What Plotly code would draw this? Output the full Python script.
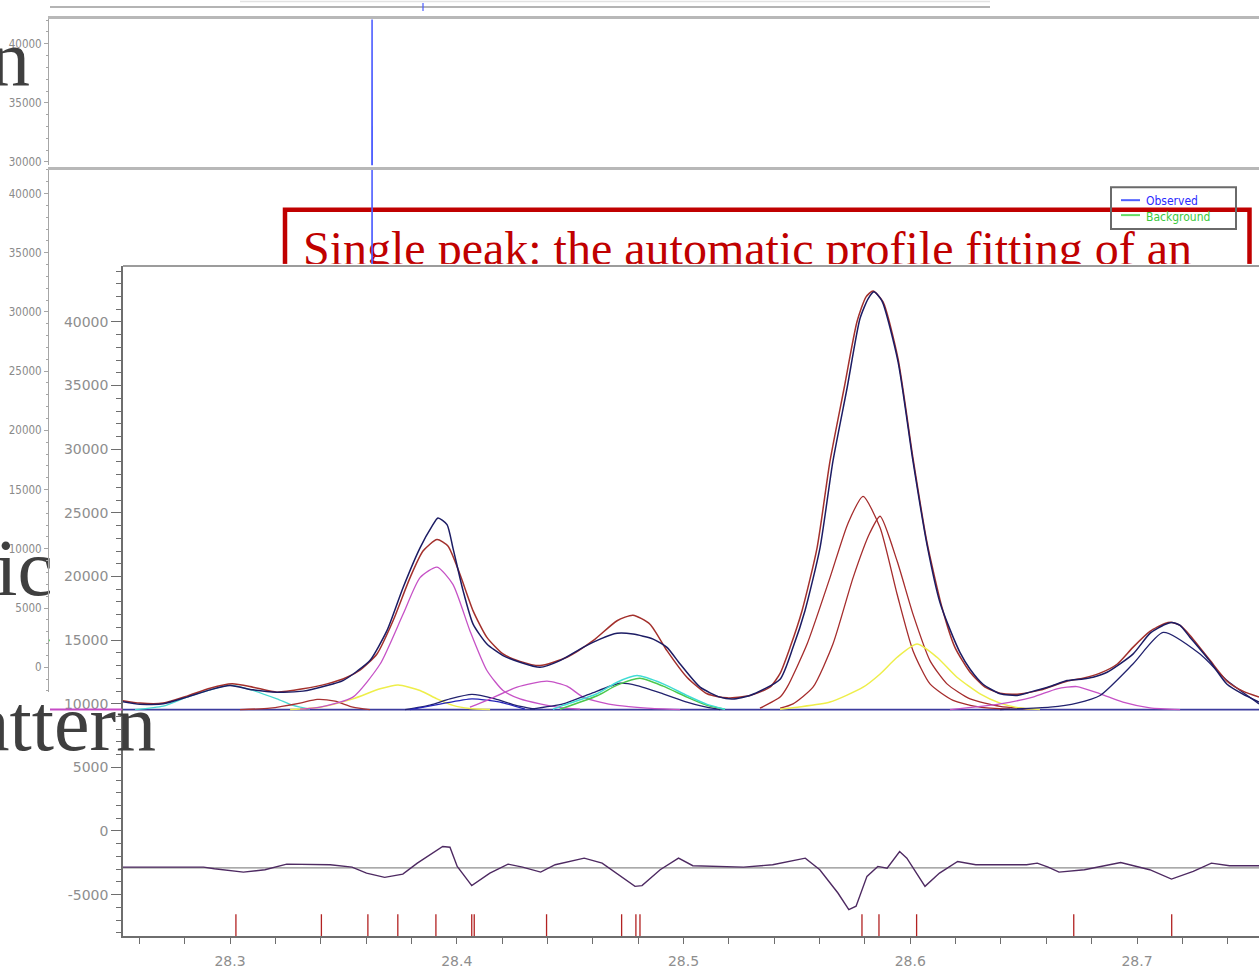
import plotly.graph_objects as go

W, H = 1259, 971

# ---------------- data (2-theta in degrees, intensity in counts) ----------------
obs_x = [28.2515, 28.2603, 28.2705, 28.2810, 28.2912, 28.3000, 28.3101, 28.3207, 28.3322, 28.3428,
         28.3498, 28.3560, 28.3617, 28.3692, 28.3763, 28.3838, 28.3891, 28.3917, 28.3957, 28.3983,
         28.4028, 28.4072, 28.4133, 28.4204, 28.4279, 28.4367, 28.4455, 28.4557, 28.4632, 28.4707,
         28.4777, 28.4866, 28.4927, 28.4985, 28.5073, 28.5161, 28.5218, 28.5293, 28.5426, 28.5483,
         28.5536, 28.5602, 28.5659, 28.5721, 28.5778, 28.5814, 28.5840, 28.5875, 28.5946, 28.6012,
         28.6074, 28.6131, 28.6175, 28.6219, 28.6264, 28.6321, 28.6396, 28.6471, 28.6528, 28.6616,
         28.6691, 28.6762, 28.6806, 28.6868, 28.6982, 28.7057, 28.7123, 28.7154, 28.7190, 28.7234,
         28.7322, 28.7397, 28.7467, 28.7538]
obs_y = [10200, 9950, 9990, 10520, 11090, 11430, 11090, 10910, 10990, 11430,
         11820, 12550, 13390, 15740, 19120, 22250, 23950, 24600, 24080, 22250,
         18870, 16250, 14690, 13780, 13260, 12860, 13390, 14430, 15080, 15530,
         15470, 15080, 14430, 13120, 11300, 10520, 10380, 10650, 11930, 14430,
         17330, 22250, 29060, 34770, 40250, 41820, 42370, 41660, 36890, 29060,
         22490, 17950, 15840, 14040, 12710, 11530, 10780, 10650, 10910, 11350,
         11820, 11950, 12080, 12470, 13900, 15530, 16230, 16390, 16150, 15210,
         13330, 11530, 10750, 10130]

calc_x = [28.2515, 28.2603, 28.2705, 28.2810, 28.2912, 28.3009, 28.3101, 28.3207, 28.3322, 28.3428,
          28.3516, 28.3573, 28.3648, 28.3719, 28.3794, 28.3851, 28.3913, 28.3961, 28.4014, 28.4072,
          28.4133, 28.4204, 28.4279, 28.4367, 28.4486, 28.4601, 28.4707, 28.4777, 28.4852, 28.4927,
          28.5015, 28.5104, 28.5192, 28.5293, 28.5381, 28.5426, 28.5470, 28.5523, 28.5589, 28.5646,
          28.5708, 28.5765, 28.5805, 28.5836, 28.5880, 28.5946, 28.6012, 28.6074, 28.6140, 28.6197,
          28.6264, 28.6330, 28.6396, 28.6471, 28.6572, 28.6691, 28.6762, 28.6837, 28.6912, 28.6982,
          28.7057, 28.7123, 28.7154, 28.7190, 28.7234, 28.7322, 28.7397, 28.7467, 28.7538]
calc_y = [10280, 10050, 10050, 10600, 11220, 11560, 11300, 10910, 11170, 11560,
          12080, 12630, 13910, 16520, 19910, 22000, 22900, 22390, 20170, 17300,
          15210, 13910, 13330, 13000, 13650, 14950, 16520, 16960, 16250, 14170,
          12080, 10780, 10460, 10650, 11300, 12390, 14430, 17330, 22250, 29060,
          34770, 40020, 41970, 42440, 41580, 37120, 29300, 22650, 17560, 14430,
          12470, 11300, 10830, 10750, 11070, 11770, 12000, 12400, 13100, 14430,
          15680, 16310, 16390, 16150, 15370, 13410, 11770, 10990, 10520]

background_x = [28.25, 28.76]
background_y = [9540, 9540]

# individual peak components
cyan1_x = [28.2581, 28.2705, 28.2810, 28.2912, 28.3000, 28.3101, 28.3207, 28.3278, 28.3353]
cyan1_y = [9540, 9810, 10520, 11090, 11460, 11040, 10380, 9870, 9570]

red_small_x = [28.3044, 28.3176, 28.3309, 28.3384, 28.3463, 28.3542, 28.3617]
red_small_y = [9540, 9650, 10050, 10340, 10200, 9730, 9540]

yellow1_x = [28.3265, 28.3397, 28.3542, 28.3662, 28.3741, 28.3838, 28.3913, 28.3983, 28.4058, 28.4147]
yellow1_y = [9540, 9730, 10380, 11170, 11480, 11040, 10380, 9870, 9620, 9540]

magenta1_x = [28.3309, 28.3397, 28.3542, 28.3662, 28.3763, 28.3838, 28.3913, 28.3983, 28.4058,
              28.4133, 28.4204, 28.4279, 28.4367, 28.4455, 28.4544]
magenta1_y = [9580, 9730, 10520, 13120, 17030, 19910, 20740, 19380, 15740,
              12610, 11040, 10380, 9990, 9700, 9580]

navy_a_x = [28.3772, 28.3882, 28.3970, 28.4067, 28.4169, 28.4257, 28.4345]
navy_a_y = [9540, 9890, 10380, 10730, 10380, 9890, 9570]

blue_b_x = [28.3794, 28.3926, 28.4067, 28.4191, 28.4301]
blue_b_y = [9540, 9970, 10380, 10130, 9570]

magenta2_x = [28.4058, 28.4133, 28.4266, 28.4398, 28.4486, 28.4557, 28.4632, 28.4707, 28.4839, 28.4985]
magenta2_y = [9730, 10260, 11300, 11770, 11380, 10520, 10130, 9870, 9660, 9540]

navy_c_x = [28.4323, 28.4469, 28.4588, 28.4720, 28.4795, 28.4910, 28.5015, 28.5086, 28.5161]
navy_c_y = [9570, 9990, 10780, 11610, 11430, 10780, 10130, 9790, 9540]

cyan2_x = [28.4424, 28.4469, 28.4619, 28.4707, 28.4795, 28.4910, 28.5015, 28.5104, 28.5183]
cyan2_y = [9570, 9870, 10780, 11690, 12210, 11560, 10650, 9950, 9570]

green2_x = [28.4455, 28.4619, 28.4707, 28.4808, 28.4910, 28.5015, 28.5104, 28.5183]
green2_y = [9570, 10630, 11460, 12000, 11380, 10520, 9870, 9570]

red_a_x = [28.5337, 28.5426, 28.5457, 28.5545, 28.5646, 28.5726, 28.5792, 28.5867, 28.5942,
           28.6012, 28.6087, 28.6189, 28.6308, 28.6440]
red_a_y = [9650, 10520, 11300, 14690, 19910, 24210, 26300, 23820, 18600,
           14170, 11560, 10260, 9730, 9570]

red_b_x = [28.5426, 28.5483, 28.5571, 28.5659, 28.5748, 28.5822, 28.5867, 28.5942, 28.6012,
           28.6087, 28.6162, 28.6264, 28.6396, 28.6528]
red_b_y = [9650, 9990, 11300, 14690, 19910, 23430, 24730, 21210, 17040,
           13390, 11560, 10380, 9800, 9570]

yellow2_x = [28.5426, 28.5503, 28.5646, 28.5792, 28.5867, 28.5942, 28.6030, 28.6118, 28.6206,
             28.6308, 28.6396, 28.6484, 28.6572]
yellow2_y = [9570, 9730, 10130, 11300, 12340, 13650, 14690, 13650, 12080,
             10780, 10050, 9660, 9540]

magenta3_x = [28.6175, 28.6396, 28.6541, 28.6647, 28.6735, 28.6837, 28.6938, 28.7057, 28.7190]
magenta3_y = [9540, 9990, 10520, 11170, 11350, 10780, 10130, 9680, 9540]

navy_d_x = [28.6396, 28.6616, 28.6735, 28.6837, 28.6982, 28.7115, 28.7278, 28.7397, 28.7538]
navy_d_y = [9540, 9730, 10050, 10650, 13120, 15600, 13900, 11820, 9990]

# difference curve (observed - calculated, shifted by offset)
residual_offset = -2900
resid_x = [28.2515, 28.2883, 28.2931, 28.3059, 28.3154, 28.3250, 28.3442, 28.3538, 28.3602, 28.3682,
           28.3762, 28.3826, 28.3938, 28.3970, 28.4002, 28.4066, 28.4146, 28.4226, 28.4290, 28.4370,
           28.4434, 28.4562, 28.4641, 28.4722, 28.4786, 28.4817, 28.4897, 28.4978, 28.5041, 28.5265,
           28.5393, 28.5537, 28.5601, 28.5681, 28.5729, 28.5761, 28.5809, 28.5857, 28.5898, 28.5953,
           28.5985, 28.6065, 28.6129, 28.6209, 28.6289, 28.6513, 28.6560, 28.6608, 28.6656, 28.6768,
           28.6928, 28.7056, 28.7152, 28.7248, 28.7328, 28.7408, 28.7538]
resid_y = [-2840, -2840, -2966, -3232, -3044, -2606, -2653, -2840, -3310, -3646,
           -3388, -2527, -1221, -1275, -2786, -4296, -3310, -2606, -2840, -3232,
           -2653, -2136, -2527, -3568, -4351, -4296, -3044, -2136, -2731, -2840,
           -2653, -2136, -3044, -4875, -6174, -5916, -3568, -2786, -2919, -1612,
           -2136, -4351, -3310, -2394, -2653, -2653, -2527, -2840, -3232, -3044,
           -2473, -3044, -3780, -3177, -2527, -2731, -2731]

# reflection (Bragg) positions
hkl_positions = [28.3026, 28.3403, 28.3608, 28.3740, 28.3908, 28.4066, 28.4077, 28.4396, 28.4727,
                 28.4790, 28.4808, 28.5787, 28.5862, 28.6028, 28.6721, 28.7153]
stick_top = -6540
stick_bottom = -8400

# overview panels (full pattern, only the strongest reflection is seen in view)
overview_x = [28.57, 28.58, 28.59]
overview_y = [9540, 42400, 9540]
overview_bg_x = [20.57, 50.57]
overview_bg_y = [2270, 2270]

main_x_ticks = [28.3, 28.4, 28.5, 28.6, 28.7]
main_y_ticks = [-5000, 0, 5000, 10000, 15000, 20000, 25000, 30000, 35000, 40000]
panel_y_ticks = [0, 5000, 10000, 15000, 20000, 25000, 30000, 35000, 40000]

title_text = "Single peak: the automatic profile fitting of an"
legend_names = ["Observed", "Background"]
legend_colors = ["#5060ff", "#66dd66"]
legend_text_colors = ["#2a2aff", "#3cc83c"]
slide_fragments = ["n", "ic", "pattern"]

# ---------------- figure ----------------
def px_x(p):
    return p / W


def px_y(p):
    return 1 - p / H


NARROW = "DejaVu Sans Condensed, Liberation Sans Narrow, Liberation Sans, sans-serif"
TICKFONT = dict(family="DejaVu Sans, Verdana, sans-serif", size=14, color="#8e8e8e")
SERIF = "Liberation Serif, Times New Roman, serif"

fig = go.Figure()

# panel 1 (overview, top)
fig.add_trace(go.Scatter(x=overview_x, y=overview_y, mode="lines", xaxis="x", yaxis="y",
                         line=dict(color=legend_colors[0], width=1.6), name=legend_names[0],
                         showlegend=False))
# panel 2 (overview, second)
fig.add_trace(go.Scatter(x=overview_bg_x, y=overview_bg_y, mode="lines", xaxis="x2", yaxis="y2",
                         line=dict(color=legend_colors[1], width=1.6), name=legend_names[1],
                         showlegend=False))
fig.add_trace(go.Scatter(x=overview_x, y=overview_y, mode="lines", xaxis="x2", yaxis="y2",
                         line=dict(color=legend_colors[0], width=1.6), showlegend=False))
# cover subplot (white card holding the zoomed chart)
fig.add_trace(go.Scatter(x=[], y=[], xaxis="x3", yaxis="y3", showlegend=False))


# main zoomed chart
def main_line(x, y, color, width=1.3, shape="spline"):
    fig.add_trace(go.Scatter(x=x, y=y, mode="lines", xaxis="x4", yaxis="y4",
                             line=dict(color=color, width=width, shape=shape, smoothing=0.6),
                             showlegend=False))


main_line(background_x, background_y, "#3c3c9e", 1.8, "linear")
main_line(cyan1_x, cyan1_y, "#46d8d0")
main_line(red_small_x, red_small_y, "#a83232")
main_line(yellow1_x, yellow1_y, "#eeee4a", 1.5)
main_line(navy_a_x, navy_a_y, "#22226e")
main_line(blue_b_x, blue_b_y, "#2424b8")
main_line(magenta1_x, magenta1_y, "#c652c6")
main_line(magenta2_x, magenta2_y, "#c652c6")
main_line(navy_c_x, navy_c_y, "#22226e")
main_line(green2_x, green2_y, "#4cc84c", 1.5)
main_line(cyan2_x, cyan2_y, "#40dcd4", 1.5)
main_line(red_a_x, red_a_y, "#a52c2c")
main_line(red_b_x, red_b_y, "#a52c2c")
main_line(yellow2_x, yellow2_y, "#eeee4a", 1.5)
main_line(magenta3_x, magenta3_y, "#c652c6")
main_line(navy_d_x, navy_d_y, "#22226e")
main_line(calc_x, calc_y, "#a3302c", 1.5)
main_line(obs_x, obs_y, "#1c1c64", 1.5)

# residual
main_line([background_x[0], background_x[1]], [residual_offset, residual_offset], "#8e8e8e", 1.3, "linear")
main_line(resid_x, resid_y, "#4e2a62", 1.4, "linear")

# reflection ticks
sx, sy = [], []
for p in hkl_positions:
    sx += [p, p, None]
    sy += [stick_bottom, stick_top, None]
fig.add_trace(go.Scatter(x=sx, y=sy, mode="lines", xaxis="x4", yaxis="y4",
                         line=dict(color="#b22222", width=1.3), showlegend=False))

panel_yaxis = dict(showline=True, linecolor="#a6a6a6", linewidth=1, ticks="outside", ticklen=4,
                   tickcolor="#a6a6a6", tickvals=panel_y_ticks, ticktext=[str(v) for v in panel_y_ticks],
                   tickfont=dict(family=NARROW, size=11.5, color="#8a8a8a"),
                   minor=dict(dtick=1000, tick0=0, ticks="outside", ticklen=2, tickcolor="#a6a6a6"),
                   showgrid=False, zeroline=False)
panel_xaxis = dict(range=[20.57, 50.57], side="top", showline=True, linecolor="#b8b8b8", linewidth=3,
                   showticklabels=False, ticks="", showgrid=False, zeroline=False)

fig.update_layout(
    width=W, height=H, autosize=False,
    margin=dict(l=0, r=0, t=0, b=0, pad=0),
    paper_bgcolor="white", plot_bgcolor="white",
    showlegend=False,
    xaxis=dict(domain=[px_x(49), 1], anchor="y", **panel_xaxis),
    yaxis=dict(domain=[px_y(166), px_y(19.5)], anchor="x", range=[29718, 42064], **panel_yaxis),
    xaxis2=dict(domain=[px_x(49), 1], anchor="y2", **panel_xaxis),
    yaxis2=dict(domain=[px_y(695), px_y(170.5)], anchor="x2", range=[-2102, 42001], **panel_yaxis),
    xaxis3=dict(domain=[px_x(50), 1], anchor="y3", visible=False, range=[0, 1]),
    yaxis3=dict(domain=[0, px_y(265)], anchor="x3", visible=False, range=[0, 1]),
    xaxis4=dict(domain=[px_x(123), 1], anchor="y4", range=[28.2528, 28.7538],
                showline=True, linecolor="#6e6e6e", linewidth=1.5,
                ticks="outside", ticklen=6, tickcolor="#6e6e6e",
                tickvals=main_x_ticks, ticktext=["%.1f" % v for v in main_x_ticks],
                ticklabelstandoff=5,
                minor=dict(dtick=0.02, tick0=28.3, ticks="outside", ticklen=6, tickcolor="#6e6e6e"),
                tickfont=TICKFONT, showgrid=False, zeroline=False),
    yaxis4=dict(domain=[px_y(940), px_y(267)], anchor="x4", range=[-8263, 44405],
                showline=True, linecolor="#6e6e6e", linewidth=1.5,
                ticks="outside", ticklen=10, tickcolor="#6e6e6e",
                tickvals=main_y_ticks, ticktext=[str(v) for v in main_y_ticks],
                minor=dict(dtick=1000, tick0=0, ticks="outside", ticklen=5, tickcolor="#6e6e6e"),
                tickfont=TICKFONT, showgrid=False, zeroline=False),
)

shapes = [
    # red framed box (partly hidden behind the zoomed chart)
    dict(type="rect", xref="paper", yref="paper", layer="below",
         x0=px_x(285), x1=px_x(1249.5), y0=px_y(420), y1=px_y(210.5),
         line=dict(color="#c00000", width=4.5), fillcolor="rgba(0,0,0,0)"),
    # invisible holder for the caption of the red box (same layer, so it is cut by the chart)
    dict(type="rect", xref="paper", yref="paper", layer="below",
         x0=px_x(297), x1=px_x(1245), y0=px_y(420), y1=px_y(214.5),
         line=dict(width=0), fillcolor="rgba(0,0,0,0)",
         label=dict(text=title_text, textposition="top left", padding=3,
                    font=dict(family=SERIF, size=48, color="#c00000"))),
    # slide text fragment lying under the chart card
    dict(type="rect", xref="paper", yref="paper", layer="below",
         x0=px_x(-200), x1=px_x(56), y0=px_y(611), y1=px_y(511),
         line=dict(width=0), fillcolor="rgba(0,0,0,0)",
         label=dict(text=slide_fragments[1], textposition="middle right", padding=0,
                    font=dict(family=SERIF, size=80, color="#3f3f3f"))),
    # top strip remnants of another panel
    dict(type="line", xref="paper", yref="paper", x0=px_x(50), x1=px_x(990), y0=px_y(7), y1=px_y(7),
         line=dict(color="#b4b4b4", width=2), layer="above"),
    dict(type="line", xref="paper", yref="paper", x0=px_x(240), x1=px_x(990), y0=px_y(1.5), y1=px_y(1.5),
         line=dict(color="#e2e2e2", width=1.5), layer="above"),
    dict(type="line", xref="paper", yref="paper", x0=px_x(423), x1=px_x(423), y0=px_y(3), y1=px_y(11),
         line=dict(color="#4a5cff", width=1.2), layer="above"),
    # top border of the zoomed chart
    dict(type="line", xref="paper", yref="paper", x0=px_x(123), x1=1, y0=px_y(267), y1=px_y(267),
         line=dict(color="#9c9c9c", width=2), layer="above"),
    # background line spilling left of the zoomed axis
    dict(type="line", xref="paper", yref="y4", x0=px_x(50), x1=px_x(122), y0=background_y[0], y1=background_y[0],
         line=dict(color="#c64ac6", width=2), layer="above"),
    # legend frame and samples
    dict(type="rect", xref="paper", yref="paper", x0=px_x(1111), x1=px_x(1236), y0=px_y(230), y1=px_y(188),
         line=dict(color="#6a6a6a", width=2), fillcolor="rgba(0,0,0,0)", layer="above"),
    dict(type="line", xref="paper", yref="paper", x0=px_x(1121), x1=px_x(1140), y0=px_y(201), y1=px_y(201),
         line=dict(color=legend_colors[0], width=2), layer="above"),
    dict(type="line", xref="paper", yref="paper", x0=px_x(1121), x1=px_x(1140), y0=px_y(216), y1=px_y(216),
         line=dict(color=legend_colors[1], width=2), layer="above"),
]
fig.update_layout(shapes=shapes)

annotations = [
    dict(text=slide_fragments[0], xref="paper", yref="paper", x=px_x(32), y=px_y(58), xanchor="right",
         yanchor="middle", showarrow=False, font=dict(family=SERIF, size=80, color="#3f3f3f")),
    dict(text=slide_fragments[2], xref="paper", yref="paper", x=px_x(158), y=px_y(726), xanchor="right",
         yanchor="middle", showarrow=False, font=dict(family=SERIF, size=80, color="#3f3f3f")),
    dict(text=legend_names[0], xref="paper", yref="paper", x=px_x(1144), y=px_y(202), xanchor="left",
         yanchor="middle", showarrow=False, font=dict(family=NARROW, size=12, color=legend_text_colors[0])),
    dict(text=legend_names[1], xref="paper", yref="paper", x=px_x(1144), y=px_y(218), xanchor="left",
         yanchor="middle", showarrow=False, font=dict(family=NARROW, size=12, color=legend_text_colors[1])),
]
fig.update_layout(annotations=annotations)

fig.write_html("out.html")
